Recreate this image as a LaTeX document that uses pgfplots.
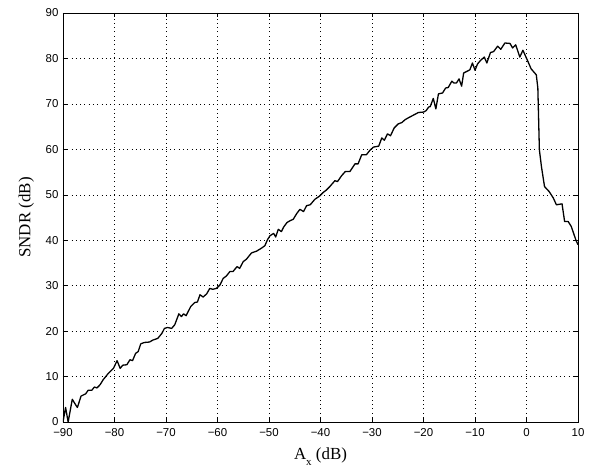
\documentclass[border=0pt]{standalone}
\usepackage{fontspec}
\setmainfont{Liberation Serif}
\newfontfamily\helv{Liberation Sans}
\usepackage{pgfplots}
\pgfplotsset{compat=1.18}
\begin{document}
\begin{tikzpicture}
\path[use as bounding box] (-63bp,-45bp) rectangle (532bp,422bp);
\begin{axis}[
  scale only axis,
  width=515bp, height=409bp,
  xmin=-90, xmax=10, ymin=0, ymax=90,
  xtick={-90,-80,...,10},
  ytick={0,10,...,90},
  xticklabels={−90,−80,−70,−60,−50,−40,−30,−20,−10,0,10},
  /pgf/number format/assume math mode=true,
  tick label style={font=\helv\fontsize{11.5}{12}\selectfont},
  xticklabel style={yshift=-3bp},
  yticklabel style={xshift=-1bp},
  tick align=inside,
  major tick length=4bp,
  grid=major,
  major grid style={black, line width=0.5pt, dash pattern=on 0.7pt off 3.6pt},
  axis line style={line width=0.6pt},
  every tick/.style={black, line width=0.5pt},
  xlabel={A\raisebox{-0.75ex}{\fontsize{11}{12}\selectfont x} (dB)},
  ylabel={SNDR (dB)},
  label style={font=\fontsize{17}{18}\selectfont},
  xlabel style={yshift=-4bp},
  ylabel style={yshift=5bp},
]
\addplot[black, line width=1.3pt, line join=round] coordinates {
(-90,0) (-89.5,3.2) (-89,0) (-88.2,5) (-87.5,3.7) (-87.2,3.2) (-86.5,5.7) (-85.6,6.2) (-85.1,7) (-84.4,7) (-83.9,7.7) (-83.4,7.5) (-82.8,8.2) (-82.2,9.3) (-81.2,10.7) (-80.2,11.8) (-79.5,13.5) (-78.9,11.8) (-78.4,12.5) (-77.6,12.6) (-77,13.7) (-76.5,13.5) (-75.9,15.1) (-75.4,15.5) (-74.9,17.2) (-74.2,17.5) (-73.2,17.6) (-72.6,18) (-71.6,18.4) (-70.8,19.5) (-70.3,20.6) (-69.7,20.8) (-68.9,20.6) (-68.3,21.4) (-67.5,23.8) (-67,23.2) (-66.6,23.8) (-66.1,23.4) (-65.2,25.4) (-64.4,26.3) (-63.9,26.4) (-63.4,28) (-62.8,27.5) (-62.1,28.2) (-61.5,29.4) (-60.9,29.2) (-60.2,29.4) (-59.5,30.2) (-58.9,31.6) (-58.3,32.1) (-57.6,33.1) (-57,33.1) (-56.2,34.2) (-55.7,33.8) (-55,35.3) (-54.4,35.8) (-53.4,37.2) (-52.4,37.6) (-51.4,38.3) (-50.8,38.8) (-50.3,40.1) (-49.8,41) (-49.1,41.5) (-48.7,40.7) (-48.2,42.4) (-47.6,41.9) (-47.1,43) (-46.5,43.9) (-45.9,44.3) (-45.3,44.6) (-44.6,45.9) (-44,46.8) (-43.3,46.3) (-42.7,47.6) (-42,47.8) (-41.1,49) (-40.2,49.7) (-39.5,50.5) (-38.9,51) (-38.2,51.8) (-37.2,53.1) (-36.7,52.9) (-35.9,54.2) (-35.2,55.1) (-34.3,55.1) (-33.3,56.8) (-32.7,56.8) (-32,58.8) (-31.1,58.8) (-30.4,59.8) (-29.7,60.5) (-28.7,60.7) (-28.1,62.5) (-27.6,62) (-27,63.4) (-26.4,63) (-25.7,64.7) (-24.9,65.6) (-24.2,65.9) (-23.6,66.5) (-23,66.9) (-22,67.5) (-21,68.1) (-20,68.2) (-19.5,68.5) (-19,69.3) (-18.7,69.4) (-18.1,71.2) (-17.6,68.9) (-17.1,72.2) (-16.3,72.4) (-15.7,73.5) (-15.2,73.6) (-14.5,75) (-14.1,74.6) (-13.6,74.6) (-13.1,75.5) (-12.6,73.9) (-12.2,76.8) (-11.5,77.2) (-11,77.5) (-10.5,79) (-10,77.4) (-9.5,78.8) (-8.9,79.6) (-8.2,80.3) (-7.7,79) (-7,81.3) (-6.4,81.5) (-5.6,82.7) (-5,82) (-4.2,83.4) (-3.2,83.3) (-2.7,82.3) (-2.1,83) (-1.3,80.3) (-0.7,81.8) (0.06,79.9) (0.9,77.7) (1.9,76.4) (2.2,73.5) (2.5,59.9) (2.9,56.2) (3.5,51.8) (4.4,50.7) (5.2,49.3) (5.8,47.8) (6.9,48) (7.4,44.1) (8.1,44.1) (8.7,43) (9.6,40) (10,39)
};
\end{axis}
\end{tikzpicture}
\end{document}
